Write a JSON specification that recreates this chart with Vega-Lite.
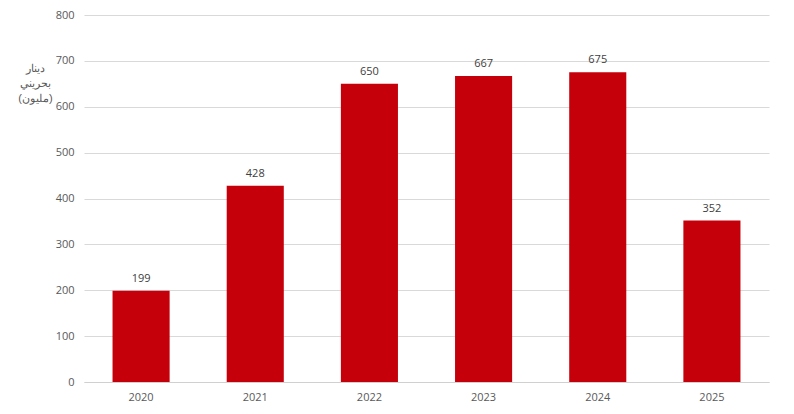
{
  "$schema": "https://vega.github.io/schema/vega-lite/v6.json",
  "width": 685,
  "height": 367,
  "autosize": {"type": "none"},
  "padding": {"left": 84, "top": 15, "right": 25, "bottom": 32},
  "background": "white",
  "config": {
    "view": {"stroke": null},
    "font": "Open Sans",
    "axis": {"labelFont": "Open Sans", "titleFont": "Liberation Sans"}
  },
  "data": {
    "values": [
      {"year": "2020", "value": 199},
      {"year": "2021", "value": 428},
      {"year": "2022", "value": 650},
      {"year": "2023", "value": 667},
      {"year": "2024", "value": 675},
      {"year": "2025", "value": 352}
    ]
  },
  "encoding": {
    "x": {
      "field": "year",
      "type": "ordinal",
      "scale": {"paddingInner": 0.5, "paddingOuter": 0.25},
      "axis": {
        "title": null,
        "labelAngle": 0,
        "labelFontSize": 11,
        "labelColor": "#595959",
        "labelPadding": 9,
        "ticks": false,
        "domainColor": "#D0D0D0",
        "domainWidth": 1
      }
    },
    "y": {
      "field": "value",
      "type": "quantitative",
      "scale": {"domain": [0, 800]},
      "axis": {
        "values": [0, 100, 200, 300, 400, 500, 600, 700, 800],
        "title": ["دينار", "بحريني", "(مليون)"],
        "titleAngle": 0,
        "titleX": -49,
        "titleY": 47,
        "titleAlign": "center",
        "titleBaseline": "top",
        "titleFontSize": 11,
        "titleFontWeight": "normal",
        "titleColor": "#595959",
        "titleLineHeight": 15,
        "labelFontSize": 11,
        "labelColor": "#595959",
        "labelPadding": 10,
        "ticks": false,
        "domain": false,
        "gridColor": "#D9D9D9",
        "gridWidth": 1
      }
    }
  },
  "layer": [
    {"mark": {"type": "bar", "color": "#C5000B"}},
    {
      "mark": {"type": "text", "baseline": "bottom", "dy": -7, "fontSize": 11, "color": "#404040"},
      "encoding": {"text": {"field": "value", "type": "quantitative"}}
    }
  ]
}
